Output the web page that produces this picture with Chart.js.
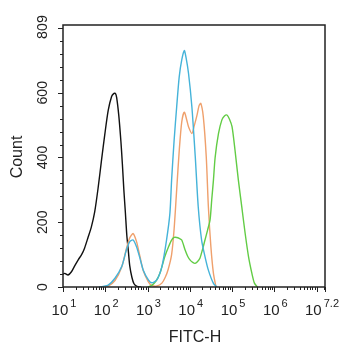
<!DOCTYPE html>
<html>
<head>
<meta charset="utf-8">
<script src="https://cdn.jsdelivr.net/npm/chart.js@4/dist/chart.umd.min.js"></script>
<style>
  html, body { margin: 0; padding: 0; background: #fff; }
  #wrap { width: 342px; height: 350px; }
</style>
</head>
<body>
<div id="wrap"><canvas id="chart"></canvas></div>
<script>
// x values are log10(FITC-H), y values are counts
const blackLog = [1.0, 1.04, 1.12, 1.2, 1.28, 1.36, 1.44, 1.51, 1.59, 1.67, 1.75, 1.83, 1.91, 1.99, 2.07, 2.15, 2.2, 2.24, 2.27, 2.32, 2.37, 2.405, 2.44, 2.476, 2.51, 2.547, 2.58, 2.63, 2.68, 2.75, 2.85];
const blackCount = [40, 42, 37, 47, 66, 84, 100, 120, 152, 185, 232, 305, 390, 472, 545, 588, 597, 598, 585, 530, 450, 380, 300, 230, 160, 110, 65, 30, 10, 2, 0];

const cyanLog = [1.85, 1.95, 2.07, 2.23, 2.39, 2.5, 2.58, 2.66, 2.74, 2.82, 2.9, 3.02, 3.1, 3.22, 3.34, 3.45, 3.53, 3.57, 3.63, 3.69, 3.75, 3.81, 3.87, 3.91, 3.97, 4.05, 4.13, 4.2, 4.28, 4.36, 4.44, 4.56, 4.64];
const cyanCount = [0, 2, 6, 27, 63, 114, 140, 145, 124, 89, 52, 22, 13, 22, 63, 145, 228, 330, 454, 556, 649, 701, 730, 710, 660, 556, 402, 248, 145, 94, 52, 11, 0];

const orangeLog = [1.95, 2.07, 2.23, 2.39, 2.5, 2.58, 2.66, 2.74, 2.82, 2.9, 3.02, 3.1, 3.22, 3.34, 3.42, 3.49, 3.57, 3.63, 3.69, 3.75, 3.81, 3.87, 3.93, 3.97, 4.05, 4.11, 4.17, 4.22, 4.26, 4.32, 4.39, 4.44, 4.5, 4.56, 4.62];
const orangeCount = [0, 3, 20, 62, 118, 152, 165, 140, 95, 50, 16, 5, 3, 12, 30, 55, 100, 180, 300, 420, 510, 540, 515, 495, 474, 500, 530, 560, 567, 526, 402, 248, 124, 42, 0];

const greenLog = [3.0, 3.1, 3.2, 3.3, 3.41, 3.5, 3.57, 3.63, 3.69, 3.75, 3.81, 3.89, 3.95, 4.01, 4.07, 4.125, 4.18, 4.24, 4.3, 4.36, 4.42, 4.48, 4.52, 4.56, 4.6, 4.68, 4.76, 4.82, 4.88, 4.94, 5.0, 5.07, 5.15, 5.23, 5.31, 5.39, 5.47, 5.53, 5.6];
const greenCount = [0, 5, 18, 45, 94, 125, 145, 153, 153, 150, 145, 114, 95, 83, 76, 73, 78, 89, 115, 145, 175, 207, 270, 330, 400, 474, 516, 528, 531, 518, 495, 423, 330, 248, 166, 94, 42, 12, 0];

const xDecades = [1, 2, 3, 4, 5, 6];
const xLastExp = '7.2';
const yLabels = [0, 200, 400, 600, 809];
const yMinorStep = 40;

function pts(xs, ys) {
    return xs.map((x, i) => ({ x: x, y: ys[i] }));
}

function series(xs, ys, color) {
    return {
        data: pts(xs, ys),
        borderColor: color,
        borderWidth: 1.4,
        pointRadius: 0,
        showLine: true,
        tension: 0.25,
        fill: false
    };
}

// frame, ticks and labels drawn against the chart's scales
const axesDecor = {
    id: 'axesDecor',
    afterDraw(chart) {
        const ctx = chart.ctx;
        const a = chart.chartArea;
        const xs = chart.scales.x;
        const ys = chart.scales.y;
        ctx.save();
        ctx.strokeStyle = '#222';
        ctx.lineWidth = 1.5;
        ctx.strokeRect(a.left, a.top, a.right - a.left, a.bottom - a.top);

        // y ticks
        ctx.lineWidth = 1;
        for (let v = 0; v <= 809; v += yMinorStep) {
            const y = Math.round(ys.getPixelForValue(v)) + 0.5;
            const len = v % 200 === 0 ? 5 : 3;
            ctx.beginPath();
            ctx.moveTo(a.left - len, y);
            ctx.lineTo(a.left, y);
            ctx.stroke();
        }
        // x ticks
        const lastExp = parseFloat(xLastExp);
        xDecades.forEach(d => {
            for (let k = 1; k <= 9; k++) {
                const e = d + Math.log10(k);
                const x = Math.round(xs.getPixelForValue(e)) + 0.5;
                const len = k === 1 ? 5 : 3;
                ctx.beginPath();
                ctx.moveTo(x, a.bottom);
                ctx.lineTo(x, a.bottom + len);
                ctx.stroke();
            }
        });
        [7, 7 + Math.log10(1.5), lastExp].forEach((e, i) => {
            const x = Math.round(xs.getPixelForValue(e)) + 0.5;
            const len = i === 1 ? 3 : 5;
            ctx.beginPath();
            ctx.moveTo(x, a.bottom);
            ctx.lineTo(x, a.bottom + len);
            ctx.stroke();
        });

        ctx.fillStyle = '#222';
        // y labels, rotated
        ctx.font = '15px "Liberation Sans", Arial, sans-serif';
        ctx.textAlign = 'center';
        ctx.textBaseline = 'middle';
        yLabels.forEach(v => {
            const y = ys.getPixelForValue(v);
            ctx.save();
            ctx.translate(43, v === 809 ? y + 2 : y);
            ctx.rotate(-Math.PI / 2);
            ctx.scale(0.95, 1);
            ctx.fillText(String(v), 0, 0);
            ctx.restore();
        });

        // x labels 10^n
        const baseFont = '15px "Liberation Sans", Arial, sans-serif';
        const supFont = '11px "Liberation Sans", Arial, sans-serif';
        const exps = xDecades.map(String).concat([xLastExp]);
        ctx.textAlign = 'left';
        ctx.textBaseline = 'alphabetic';
        exps.forEach(s => {
            const e = parseFloat(s);
            ctx.font = baseFont;
            const wb = ctx.measureText('10').width;
            ctx.font = supFont;
            const ws = ctx.measureText(s).width;
            const total = wb + 2 + ws;
            let left = xs.getPixelForValue(e) - total / 2 + 1;
            if (left + total > 339) left = 339 - total;
            ctx.font = baseFont;
            ctx.fillText('10', left, 315);
            ctx.font = supFont;
            ctx.fillText(s, left + wb + 2, 307);
        });

        // axis titles
        ctx.font = '16px "Liberation Sans", Arial, sans-serif';
        ctx.textAlign = 'center';
        ctx.textBaseline = 'middle';
        ctx.fillText('FITC-H', (a.left + a.right) / 2 + 1, 338);
        ctx.save();
        ctx.translate(18, 157);
        ctx.rotate(-Math.PI / 2);
        ctx.fillText('Count', 0, 0);
        ctx.restore();
        ctx.restore();
    }
};

new Chart(document.getElementById('chart'), {
    type: 'scatter',
    data: {
        datasets: [
            series(cyanLog, cyanCount, '#45b3d9'),
            series(greenLog, greenCount, '#62cc45'),
            series(orangeLog, orangeCount, '#efa06c'),
            series(blackLog, blackCount, '#111111')
        ]
    },
    options: {
        responsive: true,
        maintainAspectRatio: false,
        animation: false,
        layout: { padding: { left: 63, top: 25, right: 17, bottom: 63 } },
        plugins: { legend: { display: false }, tooltip: { enabled: false } },
        scales: {
            x: { type: 'linear', min: 1, max: 7.2, display: false },
            y: { type: 'linear', min: 0, max: 809, display: false }
        }
    },
    plugins: [axesDecor]
});
</script>
</body>
</html>
